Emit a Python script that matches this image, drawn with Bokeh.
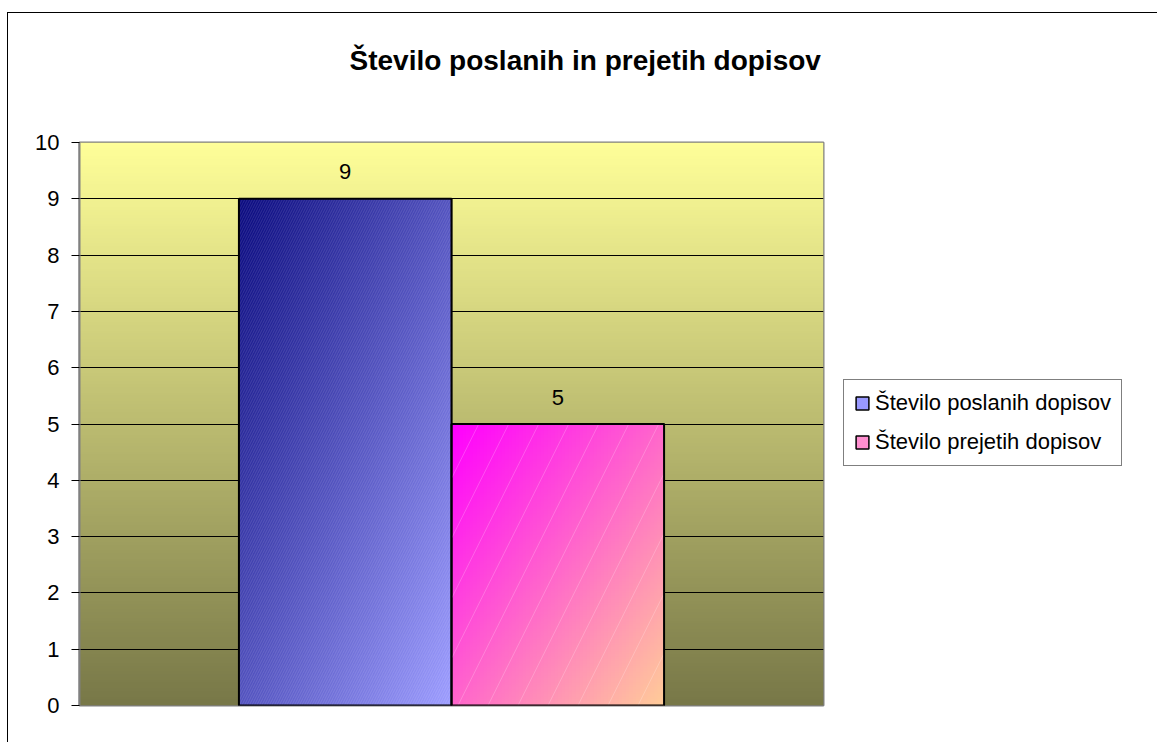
import numpy as np
from bokeh.plotting import figure
from bokeh.models import Range1d, Legend, LegendItem, FixedTicker, Title
from bokeh.core.properties import value
from bokeh.embed import file_html
from bokeh.resources import INLINE

# ---- data ----
chart_title = "Število poslanih in prejetih dopisov"
series = ["Število poslanih dopisov", "Število prejetih dopisov"]
values = [9, 5]
y_ticks = list(range(0, 11))

# ---- styles ----
grad_start = ["#0A0A80", "#FF00FF"]
grad_end = ["#9C9CFF", "#FFCC99"]
legend_colors = ["#9999FF", "#FF8FD0"]
bg_top = "#FFFF99"
bg_bottom = "#787848"
FONT = "Liberation Sans"

gap = 1.5
n = len(series)
bar_w = 1.0 / (n + gap)
lefts = [gap * bar_w / 2 + i * bar_w for i in range(n)]
rights = [l + bar_w for l in lefts]
centers = [l + bar_w / 2 for l in lefts]
ymax = y_ticks[-1]


def hex2rgb(h):
    return np.array([int(h[i:i + 2], 16) for i in (1, 3, 5)], dtype=float)


def grad_img(c0, c1, ny, nx, diagonal=True):
    a, b = hex2rgb(c0), hex2rgb(c1)
    v = np.linspace(0, 1, ny)[:, None]
    u = np.linspace(0, 1, nx)[None, :]
    t = (u + v) / 2 if diagonal else v * np.ones_like(u)
    rgb = a + (b - a) * t[..., None]
    img = np.empty((ny, nx), dtype=np.uint32)
    view = img.view(dtype=np.uint8).reshape((ny, nx, 4))
    view[..., 0] = rgb[..., 0]
    view[..., 1] = rgb[..., 1]
    view[..., 2] = rgb[..., 2]
    view[..., 3] = 255
    return img[::-1].copy()


p = figure(
    title=None,
    frame_width=744, frame_height=563,
    x_range=Range1d(0, 1), y_range=Range1d(0, ymax),
    output_backend="svg", toolbar_location=None,
    min_border_left=71, min_border_top=129, min_border_bottom=37, min_border_right=334,
)
p.styles = {"border-left": "1px solid black", "border-top": "1px solid black",
            "margin-top": "12px", "margin-left": "7px"}

# background gradient
p.image_rgba(image=[grad_img(bg_top, bg_bottom, 200, 2, diagonal=False)], x=0, y=0, dw=1, dh=ymax, level="image")

# solid bars (used for the legend swatches; covered by the gradient images)
legend_src = p.quad(left=lefts, right=rights, bottom=[0] * n, top=values,
                    fill_color=legend_colors, line_color="black", line_width=1.5)

# bars with gradient fills
for i in range(n):
    p.image_rgba(image=[grad_img(grad_start[i], grad_end[i], 120, 60)],
                 x=lefts[i], y=0, dw=bar_w, dh=values[i])

p.quad(left=lefts, right=rights, bottom=[0] * n, top=values,
       fill_alpha=0, line_color="black", line_width=2,
       hatch_pattern=["right_diagonal_line", "right_diagonal_line"],
       hatch_color="white", hatch_alpha=[0.12, 0.2], hatch_scale=[5, 60], hatch_weight=1)

# data labels
p.text(x=centers, y=values, text=[str(v) for v in values],
       text_align="center", text_baseline="alphabetic", y_offset=-27,
       text_font=value(FONT), text_font_size="22px", text_color="black")

# axes / grid
p.xaxis.visible = False
p.xgrid.grid_line_color = None
p.ygrid.grid_line_color = "black"
p.ygrid.grid_line_width = 1
p.yaxis.ticker = FixedTicker(ticks=y_ticks)
p.yaxis.major_label_text_font = FONT
p.yaxis.major_label_text_font_size = "22px"
p.yaxis.major_label_text_color = "black"
p.yaxis.axis_line_color = "#808080"
p.yaxis.axis_line_width = 2
p.yaxis.major_tick_line_color = "black"
p.yaxis.major_tick_out = 8
p.yaxis.major_tick_in = 0
p.yaxis.minor_tick_line_color = None
p.yaxis.major_label_standoff = 12
p.outline_line_color = "#808080"
p.outline_line_width = 2

# title: a thin spacer next to the frame, then the real title above it
spacer = Title(text=" ", text_font_size="1px", standoff=64)
p.add_layout(spacer, "above")
main_title = Title(text=chart_title, text_font=FONT, text_font_size="28px",
                   text_font_style="bold", text_color="black",
                   align="left", offset=270, standoff=0)
p.add_layout(main_title, "above")

# legend
items = [LegendItem(label=name, renderers=[legend_src], index=i) for i, name in enumerate(series)]
legend = Legend(items=items, location=(20, 239), label_text_font=FONT,
                label_text_font_size="22px", label_text_color="black",
                border_line_color="black", border_line_width=1,
                padding=10, spacing=13, glyph_width=16, glyph_height=16, label_standoff=5,
                margin=0, background_fill_color="white", background_fill_alpha=1)
p.add_layout(legend, "right")

open("out.html", "w").write(file_html(p, INLINE))
